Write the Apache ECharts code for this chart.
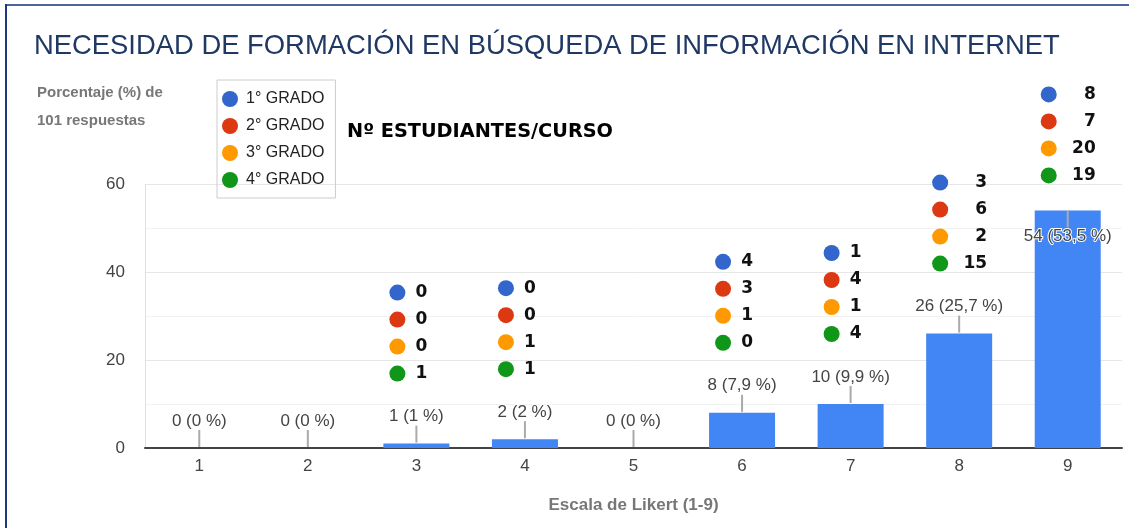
<!DOCTYPE html>
<html>
<head>
<meta charset="utf-8">
<script src="https://cdn.jsdelivr.net/npm/echarts@6/dist/echarts.min.js"></script>
<style>html,body{margin:0;padding:0;background:#fff}#chart{width:1129px;height:528px}</style>
</head>
<body>
<div id="chart"></div>
<script>
// ---- data ----
const categories = ['1', '2', '3', '4', '5', '6', '7', '8', '9'];
const responses = [0, 0, 1, 2, 0, 8, 10, 26, 54];
const percents = [0, 0, 1, 2, 0, 7.9, 9.9, 25.7, 53.5];
const gradeNames = ['1° GRADO', '2° GRADO', '3° GRADO', '4° GRADO'];
const grado1 = [null, null, 0, 0, null, 4, 1, 3, 8];
const grado2 = [null, null, 0, 0, null, 3, 4, 6, 7];
const grado3 = [null, null, 0, 1, null, 1, 1, 2, 20];
const grado4 = [null, null, 1, 1, null, 0, 4, 15, 19];
const yTicks = [0, 20, 40, 60];
const titleText = 'NECESIDAD DE FORMACIÓN EN BÚSQUEDA DE INFORMACIÓN EN INTERNET';
const yAxisName = 'Porcentaje (%) de\n101 respuestas';
const xAxisName = 'Escala de Likert (1-9)';
const noteText = 'Nº ESTUDIANTES/CURSO';

const grades = [grado1, grado2, grado3, grado4];
const gradeColors = ['#3366cc', '#dc3912', '#ff9900', '#109618'];
const maxResp = Math.max(...responses);

function pctText(p) { return String(p).replace('.', ','); }

const barData = responses.map((v, i) => {
  const inside = v === maxResp;
  return {
    value: v,
    label: inside ? {
      position: 'insideTop', distance: 0,
      formatter: '{l|}\n{t|' + v + ' (' + pctText(percents[i]) + ' %)}'
    } : {
      position: 'top', distance: 1,
      formatter: '{t|' + v + ' (' + pctText(percents[i]) + ' %)}\n{l|}'
    }
  };
});

const scatterSeries = grades.map((arr, g) => {
  const data = [];
  arr.forEach((c, i) => {
    if (c === null) return;
    const colMax = Math.max(...grades.map(a => a[i]));
    const inside = responses[i] === maxResp;
    const base = inside ? 35 : 70;
    data.push({
      value: [categories[i], responses[i]],
      count: c,
      symbolOffset: [-19, -(base + (3 - g) * 27)],
      label: { rich: { n: { width: colMax >= 10 ? 29 : 12 } } }
    });
  });
  return {
    type: 'scatter', name: gradeNames[g], data: data,
    symbol: 'circle', symbolSize: 16, z: 5,
    itemStyle: { color: gradeColors[g], opacity: 1 },
    label: {
      show: true, position: 'right', distance: 10,
      formatter: p => '{n|' + p.data.count + '}',
      rich: { n: { align: 'right', fontSize: 17, fontWeight: 'bold', fontFamily: 'DejaVu Sans', color: '#111' } }
    },
    emphasis: { disabled: true }
  };
});

const chart = echarts.init(document.getElementById('chart'), null, { renderer: 'canvas' });
chart.setOption({
  animation: false,
  backgroundColor: '#fff',
  title: [
    { text: titleText, left: 29, top: 28, padding: 5,
      textStyle: { fontSize: 27.4, fontWeight: 'normal', color: '#1f3864', fontFamily: 'Liberation Sans' } },
    { text: yAxisName, left: 32, top: 74,
      textStyle: { fontSize: 15, fontWeight: 'bold', color: '#777', lineHeight: 28, fontFamily: 'Liberation Sans' } },
    { text: noteText, left: 342, top: 117,
      textStyle: { fontSize: 19.3, fontWeight: 'bold', color: '#000', fontFamily: 'DejaVu Sans', lineHeight: 20 } }
  ],
  legend: {
    data: gradeNames, orient: 'vertical', left: 217, top: 80,
    icon: 'circle', itemWidth: 22, itemHeight: 16, itemGap: 11,
    padding: [11, 11, 10, 5], borderColor: '#ccc', borderWidth: 1,
    textStyle: { fontSize: 16, color: '#222', fontFamily: 'Liberation Sans' },
    selectedMode: false
  },
  grid: { left: 145, right: 7, top: 184, bottom: 80, containLabel: false },
  xAxis: {
    type: 'category', data: categories, boundaryGap: true,
    axisLine: { lineStyle: { color: '#444', width: 2 } },
    axisTick: { show: false },
    axisLabel: { color: '#444', fontSize: 17, margin: 10, fontFamily: 'Liberation Sans' },
    name: xAxisName, nameLocation: 'middle', nameGap: 49,
    nameTextStyle: { fontSize: 17, fontWeight: 'bold', color: '#777', fontFamily: 'Liberation Sans' }
  },
  yAxis: {
    type: 'value', min: yTicks[0], max: yTicks[yTicks.length - 1], interval: 20,
    axisLine: { show: true, lineStyle: { color: '#e0e0e0' } },
    axisTick: { show: false },
    axisLabel: { color: '#444', fontSize: 17, margin: 20, fontFamily: 'Liberation Sans' },
    splitLine: { lineStyle: { color: '#e6e6e6' } },
    minorTick: { show: false, splitNumber: 2 },
    minorSplitLine: { show: true, lineStyle: { color: '#f2f2f2' } }
  },
  series: [
    {
      type: 'bar', name: 'Respuestas', data: barData, barWidth: 66, z: 2,
      itemStyle: { color: '#4285f4' },
      label: {
        show: true, align: 'center',
        rich: {
          t: { fontSize: 17, color: '#444', fontFamily: 'Liberation Sans', align: 'center',
               textBorderColor: '#fff', textBorderWidth: 2, lineHeight: 18 },
          l: { width: 2, height: 17, backgroundColor: '#aaa', align: 'center' }
        }
      },
      emphasis: { disabled: true }
    }
  ].concat(scatterSeries),
  graphic: [
    { type: 'line', shape: { x1: 6, y1: 5, x2: 1129, y2: 5 }, style: { stroke: '#4a66a0', lineWidth: 2 } },
    { type: 'line', shape: { x1: 6, y1: 4, x2: 6, y2: 528 }, style: { stroke: '#1c3680', lineWidth: 2 } }
  ]
});
</script>
</body>
</html>
